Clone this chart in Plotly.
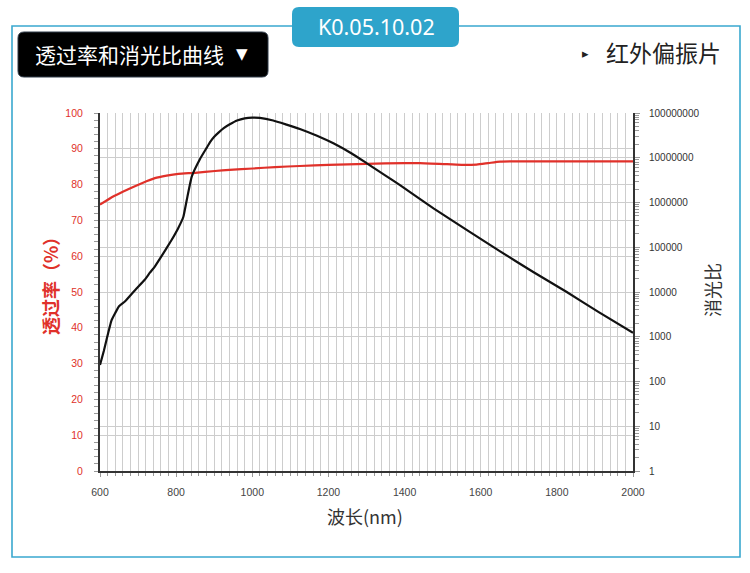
import plotly.graph_objects as go

# transmittance curve (left axis, %)
wl_trans = [600, 637, 674, 710, 744, 775, 806, 850, 902, 940, 1002, 1060, 1125,
            1200, 1300, 1400, 1440, 1511, 1554, 1589, 1620, 1651, 1700, 1800, 1900, 2000]
transmittance = [74.4, 76.8, 78.7, 80.4, 81.8, 82.5, 83.0, 83.3, 83.8, 84.1, 84.5, 84.9, 85.2,
                 85.5, 85.8, 86.0, 86.0, 85.7, 85.5, 85.6, 86.0, 86.4, 86.5, 86.5, 86.5, 86.5]

# extinction ratio curve (right axis, log)
wl_ext = [600, 610, 617, 630, 640, 650, 666, 692, 718, 731, 744, 760, 788, 805, 819, 828,
          841, 863, 880, 890, 900, 912, 925, 941, 960, 980, 1000, 1020, 1055, 1090, 1125,
          1170, 1213, 1260, 1300, 1350, 1388, 1476, 1563, 1651, 1738, 1826, 1910, 2000]
extinction = [234, 480, 850, 2300, 3400, 4800, 6200, 11000, 19000, 27000, 37000, 60000,
              145000, 263000, 480000, 1.15e6, 3.8e6, 9.5e6, 1.66e7, 2.3e7, 2.95e7, 3.7e7,
              4.6e7, 5.6e7, 6.8e7, 7.6e7, 7.9e7, 7.8e7, 6.8e7, 5.5e7, 4.4e7,
              3.1e7, 2.1e7, 1.26e7, 7.6e6, 4.0e6, 2.45e6, 7.4e5, 2.45e5, 8.1e4, 2.8e4,
              1.0e4, 3550, 1230]

ext_tickvals = [1, 10, 100, 1000, 10000, 100000, 1000000, 10000000, 100000000]
ext_ticktext = ["1", "10", "100", "1000", "10000", "100000", "1000000", "10000000", "100000000"]

W, H = 750, 573
CJK = "Noto Sans CJK SC"
NUM = "Liberation Sans"
BLUE = "#2ea4cb"
RED = "#e0312a"
GRID = "#cdcdcd"


def rrect(x0, y0, x1, y1, r):
    # rounded rectangle in pixel coords (top-left origin) -> paper path
    def px(x):
        return x / W

    def py(y):
        return 1 - y / H

    pts = [
        f"M {px(x0 + r)},{py(y0)}",
        f"L {px(x1 - r)},{py(y0)}",
        f"Q {px(x1)},{py(y0)} {px(x1)},{py(y0 + r)}",
        f"L {px(x1)},{py(y1 - r)}",
        f"Q {px(x1)},{py(y1)} {px(x1 - r)},{py(y1)}",
        f"L {px(x0 + r)},{py(y1)}",
        f"Q {px(x0)},{py(y1)} {px(x0)},{py(y1 - r)}",
        f"L {px(x0)},{py(y0 + r)}",
        f"Q {px(x0)},{py(y0)} {px(x0 + r)},{py(y0)}",
        "Z",
    ]
    return " ".join(pts)


fig = go.Figure()
fig.add_trace(go.Scatter(x=wl_trans, y=transmittance, mode="lines",
                         line=dict(color=RED, width=2.2, shape="spline", smoothing=0.6),
                         yaxis="y", showlegend=False))
fig.add_trace(go.Scatter(x=wl_ext, y=extinction, mode="lines",
                         line=dict(color="#111111", width=2.2, shape="spline", smoothing=0.4),
                         yaxis="y2", showlegend=False))

fig.update_layout(
    width=W, height=H,
    margin=dict(l=0, r=0, t=0, b=0, autoexpand=False),
    paper_bgcolor="white", plot_bgcolor="white",
    xaxis=dict(
        domain=[100 / W, 633 / W], range=[600, 2000], dtick=200, tick0=600,
        automargin=False,
        showgrid=True, gridcolor=GRID, gridwidth=1.2,
        minor=dict(dtick=20, showgrid=True, gridcolor=GRID, gridwidth=1.2,
                   ticks="outside", ticklen=3, tickcolor="#999"),
        ticks="outside", ticklen=4, tickcolor="#999", ticklabelstandoff=6,
        showline=True, linecolor="#333", linewidth=2, zeroline=False,
        tickfont=dict(family=NUM, size=10.5, color="#444"),
    ),
    yaxis=dict(
        domain=[1 - 471 / H, 1 - 113 / H], range=[0, 100], dtick=10,
        automargin=False,
        showgrid=True, gridcolor=GRID, gridwidth=1.2,
        minor=dict(dtick=2, ticks="outside", ticklen=4, tickcolor="#999", showgrid=False),
        ticks="outside", ticklen=4, tickcolor="#999", ticklabelstandoff=9,
        showline=True, linecolor="#333", linewidth=2, zeroline=False,
        tickfont=dict(family=NUM, size=10.5, color=RED),
    ),
    yaxis2=dict(
        overlaying="y", side="right", anchor="x", type="log", range=[0, 8],
        automargin=False,
        tickmode="array", tickvals=ext_tickvals, ticktext=ext_ticktext,
        showgrid=True, gridcolor=GRID, gridwidth=1.2,
        minor=dict(dtick="D1", ticks="outside", ticklen=4, tickcolor="#999", showgrid=False),
        ticks="outside", ticklen=5, tickcolor="#999", ticklabelstandoff=7,
        showline=True, linecolor="#333", linewidth=2, zeroline=False,
        tickfont=dict(family=NUM, size=10, color="#333"),
    ),
)

shapes = [
    dict(type="rect", xref="paper", yref="paper", x0=12 / W, x1=740 / W,
         y0=1 - 557 / H, y1=1 - 26 / H, line=dict(color="#3aa8cf", width=1.6),
         fillcolor="rgba(0,0,0,0)", layer="below"),
    dict(type="path", xref="paper", yref="paper", path=rrect(292, 7, 459, 47, 7),
         fillcolor=BLUE, line=dict(width=0)),
    dict(type="path", xref="paper", yref="paper", path=rrect(18, 32, 268, 77, 6),
         fillcolor="#000000", line=dict(color="#2f3a48", width=1)),
]
fig.update_layout(shapes=shapes)

ann = [
    dict(x=376 / W, y=1 - 27 / H, text="K0.05.10.02",
         font=dict(family="Noto Sans", size=21.5, color="white")),
    dict(x=129 / W, y=1 - 54 / H, text="透过率和消光比曲线",
         font=dict(family=CJK, size=21, color="white")),
    dict(x=242.5 / W, y=1 - 54 / H, text="▼",
         font=dict(family="DejaVu Sans", size=15, color="white")),
    dict(x=585 / W, y=1 - 52 / H, text="▸",
         font=dict(family=CJK, size=13, color="#222")),
    dict(x=663 / W, y=1 - 52 / H, text="红外偏振片",
         font=dict(family=CJK, size=23, color="#222")),
    dict(x=50 / W, y=1 - 282 / H, text="<b>透过率（%）</b>", textangle=-90,
         font=dict(family=CJK, size=18, color=RED)),
    dict(x=712 / W, y=1 - 290 / H, text="消光比", textangle=-90,
         font=dict(family=CJK, size=18, color="#333")),
    dict(x=365 / W, y=1 - 516 / H, text="波长(nm)",
         font=dict(family=CJK, size=18, color="#333")),
]
for a in ann:
    a.update(xref="paper", yref="paper", showarrow=False, xanchor="center", yanchor="middle")
fig.update_layout(annotations=ann)

# drop the default page margin / scrollbars so paper coords match the window pixels
page_fix = (
    "document.documentElement.style.margin='0px';"
    "document.documentElement.style.overflow='hidden';"
    "document.body.style.margin='0px';"
    "document.body.style.overflow='hidden';"
)
fig.write_html("out.html", post_script=page_fix, config={"displayModeBar": False})
